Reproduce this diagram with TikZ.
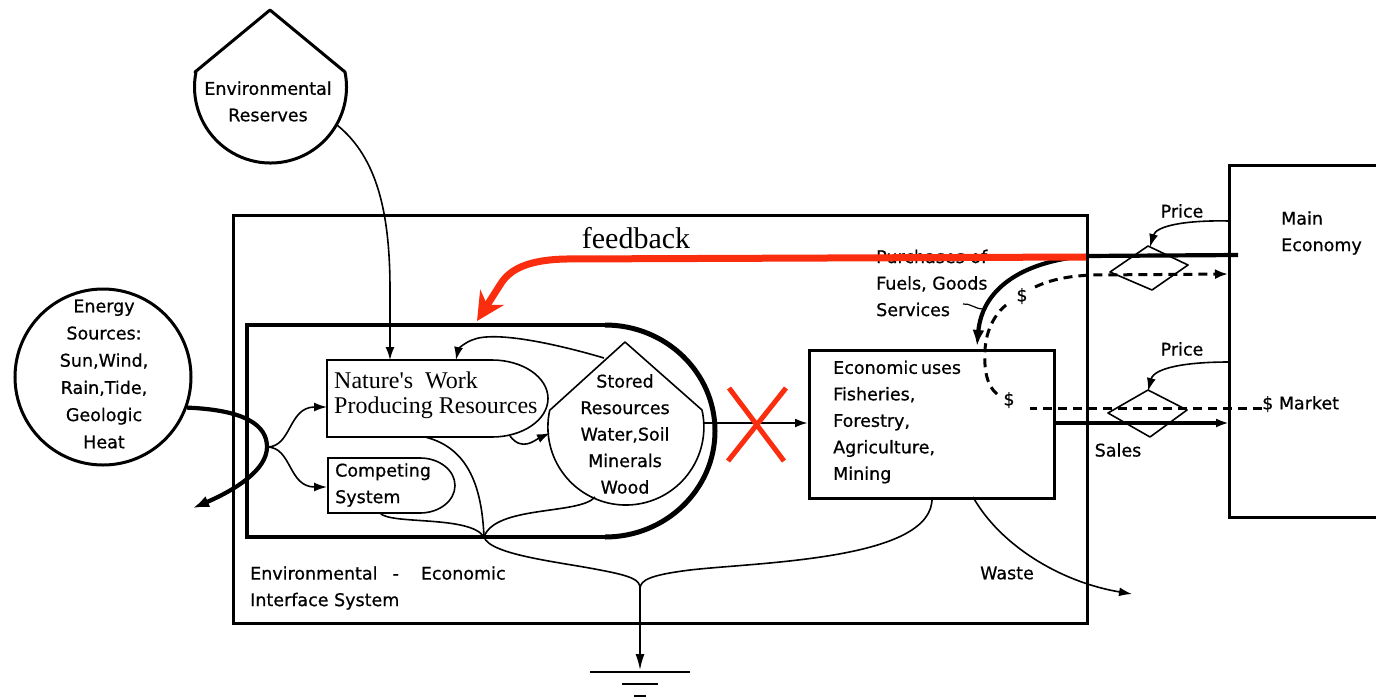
\documentclass[tikz,border=0pt]{standalone}
\usepackage{fontspec}
\setmainfont[FakeBold=0.7]{DejaVu Sans}
\newfontfamily\serifface{Liberation Serif}
\usetikzlibrary{arrows.meta}
\definecolor{fbred}{RGB}{250,45,15}
\begin{document}
\begin{tikzpicture}[x=1pt,y=-1pt,
  every node/.style={inner sep=0pt},
  txt/.style={font=\fontsize{17.5}{26.5}\selectfont},
  sertxt/.style={font=\serifface\fontsize{24}{25}\selectfont},
  flow/.style={line width=1.6pt},
  heavy/.style={line width=4.2pt},
  frame/.style={line width=3pt},
  tip/.style={-{Latex[length=13pt,width=9pt]}},
  bigtip/.style={-{Latex[length=16pt,width=12pt]}},
  money/.style={line width=3pt, dash pattern=on 9pt off 6pt},
  cross/.style={line width=5pt, fbred, line cap=butt}
]
\useasboundingbox (0,0) rectangle (1376,697);

% ---------- outer interface system ----------
\node[draw, frame, anchor=north west, minimum width=854pt, minimum height=408pt] (iface) at (232,214) {};
\node[txt, align=left, anchor=west] (ifacetxt) at (250,588)
  {Environmental\hspace{15pt}-\hspace{22pt}Economic\\Interface System};

% ---------- environmental reserves tank ----------
\draw[line width=3pt, line join=round] (195,72) -- (270,10) -- (345,72)
  arc[start angle=11.4, end angle=-191.4, radius=76pt] -- cycle;
\node[txt, align=center] (reserves) at (268,101.5) {Environmental\\Reserves};
\coordinate (resout) at (337,125);

% ---------- energy sources ----------
\node[draw, circle, line width=3pt, minimum size=176pt] (energy) at (103,377) {};
\node[txt, align=center, font=\fontsize{17.5}{27.2}\selectfont] (energytxt) at (104,374)
  {Energy\\Sources:\\Sun,Wind,\\Rain,Tide,\\Geologic\\Heat};

% ---------- inner environmental system ----------
\draw[line width=3.2pt] (605,325) -- (247,325) -- (247,537) -- (605,537);
\draw[line width=5pt] (605,325) arc[start angle=90, end angle=-90, x radius=110pt, y radius=106pt];

% nature's work producer
\draw[flow] (327,360) -- (492,360) arc[start angle=90, end angle=-90, x radius=56pt, y radius=38.5pt] -- (327,437) -- cycle;
\node[sertxt, align=left, anchor=west] (nature) at (334,395.5) {Nature's\ \ Work\\Producing Resources};

% competing system
\draw[flow] (328,458) -- (420,458) arc[start angle=90, end angle=-90, x radius=35pt, y radius=27.5pt] -- (328,513) -- cycle;
\node[txt, align=left, anchor=west] (compete) at (335,485) {Competing\\System};

% stored resources tank
\draw[flow, line join=round] (550,410) -- (625,342) -- (702,410)
  arc[start angle=12.6, end angle=-192.6, radius=78pt] -- cycle;
\node[txt, align=center] (stored) at (625,434) {Stored\\Resources\\Water,Soil\\Minerals\\Wood};

% ---------- economic uses ----------
\node[draw, frame, anchor=north west, minimum width=245pt, minimum height=148pt] (econ) at (808,349) {};
\node[txt, align=left, anchor=west] (econtxt) at (833,422)
  {Economic\hspace{3pt}uses\\Fisheries,\\Forestry,\\Agriculture,\\Mining};

% ---------- main economy ----------
\draw[frame] (1376,165) -- (1229,165) -- (1229,517) -- (1376,517);
\node[txt, align=left, anchor=west] (main) at (1281,233) {Main\\Economy};

% ---------- attachment points ----------
\coordinate (natL) at (327,407);
\coordinate (natT) at (456,360);
\coordinate (natB) at (425,437);
\coordinate (natBR) at (510,436);
\coordinate (compL) at (327,487);
\coordinate (compB) at (380,513);
\coordinate (stoL) at (550,433);
\coordinate (stoUL) at (604,358);
\coordinate (stoB) at (595,497);
\coordinate (stoR) at (704,423);
\coordinate (split) at (267,447);
\coordinate (sinkA) at (484,537);
\coordinate (merge) at (640,588);
\coordinate (ground) at (640,670);
\coordinate (econL) at (808,423);
\coordinate (econR) at (1053,423);
\coordinate (econT) at (977,346);
\coordinate (econB1) at (932,497);
\coordinate (econB2) at (973,497);
\coordinate (wasteEnd) at (1132,594);
\coordinate (mainL1) at (1238,255);
\coordinate (mainP1) at (1229,221);
\coordinate (mainP2) at (1229,362);
\coordinate (mainIn) at (1228,274);
\coordinate (mainSale) at (1229,423);
\coordinate (mkt) at (1262,408);
\coordinate (energyOut) at (193,508);

% ---------- flows ----------
\draw[flow, tip] (resout) .. controls (378,158) and (390,215) .. (390,290) -- (390,360);

\draw[heavy, bigtip] (energy.-20) .. controls (245,410) and (267,425) .. (split)
  .. controls (267,470) and (235,490) .. (energyOut);
\draw[flow, tip] (split) .. controls (292,447) and (288,407) .. (natL);
\draw[flow, tip] (split) .. controls (292,447) and (288,487) .. (compL);

\draw[flow, tip] (natBR) .. controls (522,452) and (535,440) .. (stoL);
\draw[flow, tip] (stoUL) .. controls (560,345) and (495,330) .. (472,340)
  .. controls (462,344) and (458,350) .. (natT);

% drains to the sink
\draw[flow] (natB) .. controls (470,448) and (482,490) .. (sinkA);
\draw[flow] (compB) .. controls (390,525) and (470,515) .. (sinkA);
\draw[flow] (stoB) .. controls (580,515) and (495,505) .. (sinkA);
\draw[flow] (sinkA) .. controls (490,555) and (560,562) .. (600,570)
  .. controls (632,576) and (640,580) .. (merge);
\draw[flow] (econB1) .. controls (935,560) and (760,562) .. (690,570)
  .. controls (650,575) and (641,580) .. (merge);
\draw[flow, -{Latex[length=16pt,width=9pt]}] (merge) -- (ground);
\draw[flow] (590,672) -- (690,672);
\draw[flow] (622,684) -- (658,684);
\draw[flow] (634,696) -- (646,696);

\draw[flow, tip] (econB2) .. controls (1000,545) and (1060,582) .. (wasteEnd);
\node[txt] (waste) at (1007,573) {Waste};

% resource flow to economic uses, cut
\draw[line width=2.4pt, tip] (stoR) -- (econL);
\draw[cross] (729,388) -- (784,461);
\draw[cross] (786,388) -- (728,461);

% ---------- exchanges with the main economy ----------
\draw[flow, line join=round] (1148,246) -- (1188,265) -- (1152,290) -- (1110,272) -- cycle;
\draw[flow, line join=round] (1148,390) -- (1187,410) -- (1150,437) -- (1108,413) -- cycle;

\node[txt] (price1) at (1182,211) {Price};
\node[txt] (price2) at (1182,349) {Price};
\draw[flow, tip] (mainP1) .. controls (1185,220) and (1156,226) .. (1150,247);
\draw[flow, tip] (mainP2) .. controls (1185,362) and (1154,368) .. (1148,391);

% purchases
\draw[heavy, bigtip] (mainL1) -- (1085,256) .. controls (1020,262) and (982,290) .. (econT);
\node[txt, align=left, anchor=west] (purch) at (876,283) {Purchases of\\Fuels, Goods\\Services};
\draw[line width=1.2pt] (963,304) .. controls (970,303) and (975,309) .. (983,309);

% sales
\draw[line width=3.2pt, tip] (econR) -- (mainSale);
\node[txt] (sales) at (1118,450) {Sales};

% money flow
\draw[money] (mkt) -- (1030,408);
\node[txt] (dol1) at (1009,400) {\$};
\draw[money] (997,394) .. controls (986,385) and (984,368) .. (985,350)
  .. controls (986,330) and (995,314) .. (1006,305);
\node[txt] (dol2) at (1022,296) {\$};
\draw[money, -{Latex[length=13pt,width=10pt]}] (1035,287) .. controls (1052,279) and (1070,276) .. (1092,275) -- (mainIn);
\node[txt, anchor=west] (market) at (1262,404) {\$ Market};

% ---------- feedback ----------
\draw[line width=7pt, fbred, -{Stealth[length=28pt,width=28pt,inset=9pt]}]
  (1086,257) -- (565,259) .. controls (530,260) and (510,268) .. (500,285) -- (477,321);
\node[font=\serifface\fontsize{30}{30}\selectfont] (fb) at (636,238.5) {feedback};

\end{tikzpicture}
\end{document}
